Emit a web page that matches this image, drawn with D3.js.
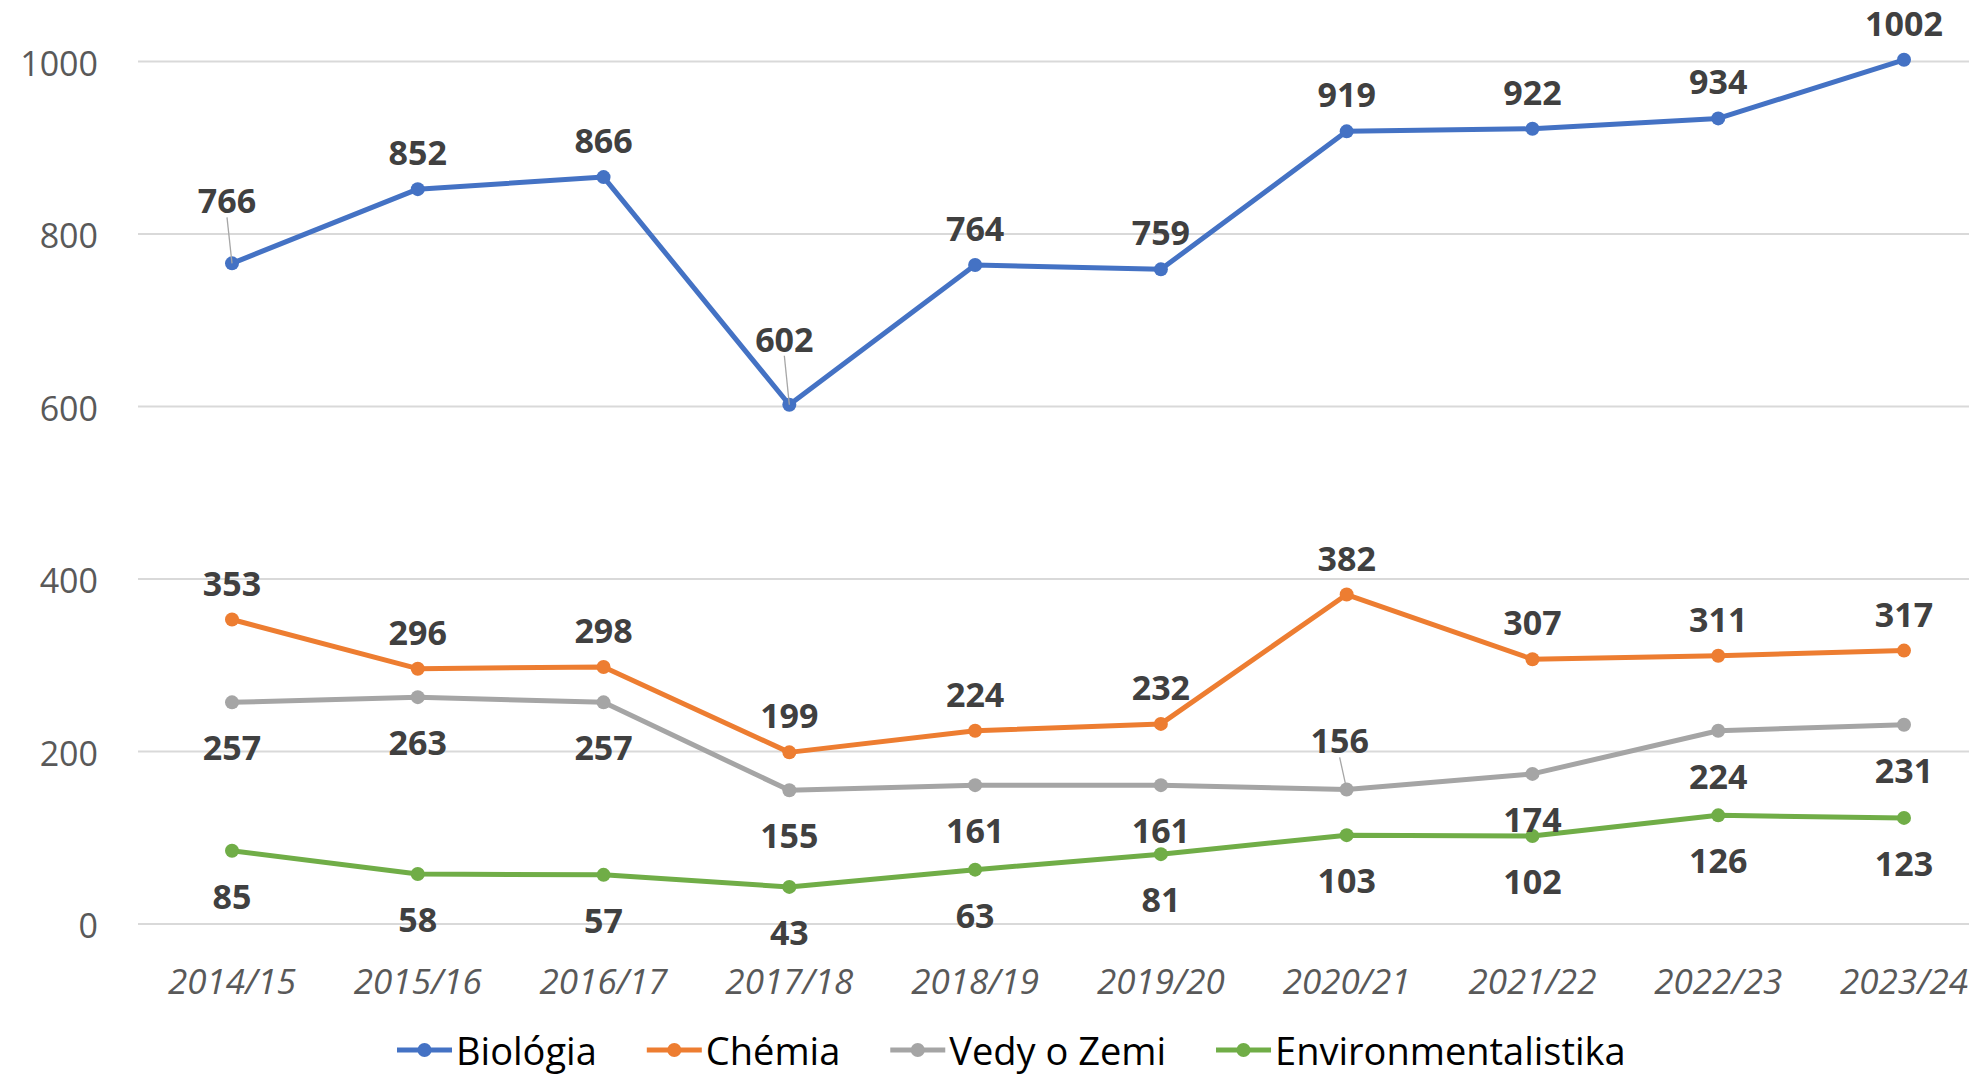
<!DOCTYPE html>
<html>
<head>
<meta charset="utf-8">
<script src="https://cdn.jsdelivr.net/npm/d3@7"></script>
<style>
  body { margin: 0; background: #fff; }
  text { font-family: "Open Sans", sans-serif; }
</style>
</head>
<body>
<div id="chart"></div>
<script>
// values
const years = ["2014/15", "2015/16", "2016/17", "2017/18", "2018/19", "2019/20", "2020/21", "2021/22", "2022/23", "2023/24"];
const biologia = [766, 852, 866, 602, 764, 759, 919, 922, 934, 1002];
const chemia = [353, 296, 298, 199, 224, 232, 382, 307, 311, 317];
const vedyOZemi = [257, 263, 257, 155, 161, 161, 156, 174, 224, 231];
const environmentalistika = [85, 58, 57, 43, 63, 81, 103, 102, 126, 123];
const yTicks = [0, 200, 400, 600, 800, 1000];

const series = [
    {name: "Biológia", values: biologia, color: "#4472C4", above: true},
    {name: "Chémia", values: chemia, color: "#ED7D31", above: true},
    {name: "Vedy o Zemi", values: vedyOZemi, color: "#A5A5A5", above: false},
    {name: "Environmentalistika", values: environmentalistika, color: "#70AD47", above: false}
];

// labels that Excel moved away and tied with a leader line
const moved = {"Biológia:0": [-5, -63], "Biológia:3": [-5, -66], "Vedy o Zemi:6": [-7, -49]};

var width = 1969, height = 1075;

var svg = d3.select("#chart")
    .append("svg")
    .attr("width", width)
    .attr("height", height);

var x = d3.scalePoint()
    .domain(years)
    .range([232, 1904]);

var y = d3.scaleLinear()
    .domain([0, 1000])
    .range([924, 61.5]);

// gridlines
svg.append("g")
    .selectAll("line")
    .data(yTicks)
    .enter()
    .append("line")
    .attr("x1", 138)
    .attr("x2", width)
    .attr("y1", d => y(d))
    .attr("y2", d => y(d))
    .style("stroke", "#d9d9d9")
    .style("stroke-width", 2);

// y axis labels
svg.append("g")
    .selectAll("text")
    .data(yTicks)
    .enter()
    .append("text")
    .attr("x", 98)
    .attr("y", d => y(d) + 1)
    .attr("text-anchor", "end")
    .attr("dominant-baseline", "central")
    .style("font-size", "34px")
    .style("fill", "#595959")
    .text(d => d);

// x axis labels
svg.append("g")
    .selectAll("text")
    .data(years)
    .enter()
    .append("text")
    .attr("x", d => x(d))
    .attr("y", 980)
    .attr("text-anchor", "middle")
    .attr("dominant-baseline", "central")
    .style("font-size", "35px")
    .style("font-style", "italic")
    .style("fill", "#595959")
    .text(d => d);

var line = d3.line()
    .x((d, i) => x(years[i]))
    .y(d => y(d));

series.forEach(function(s) {
    var g = svg.append("g");
    g.append("path")
        .datum(s.values)
        .attr("d", line)
        .style("fill", "none")
        .style("stroke", s.color)
        .style("stroke-width", 5)
        .style("stroke-linejoin", "round");

    g.selectAll("circle")
        .data(s.values)
        .enter()
        .append("circle")
        .attr("cx", (d, i) => x(years[i]))
        .attr("cy", d => y(d))
        .attr("r", 7)
        .style("fill", s.color);
});

// data labels
series.forEach(function(s) {
    var g = svg.append("g");
    s.values.forEach(function(v, i) {
        var px = x(years[i]), py = y(v);
        var off = moved[s.name + ":" + i];
        var dx = off ? off[0] : 0;
        var dy = off ? off[1] : (s.above ? -37 : 45);
        if (off) {
            g.append("line")
                .attr("x1", px + dx)
                .attr("y1", py + dy + 17)
                .attr("x2", px)
                .attr("y2", py)
                .style("stroke", "#a6a6a6")
                .style("stroke-width", 1.3);
        }
        g.append("text")
            .attr("x", px + dx)
            .attr("y", py + dy)
            .attr("text-anchor", "middle")
            .attr("dominant-baseline", "central")
            .style("font-size", "34px")
            .style("font-weight", "bold")
            .style("fill", "#404040")
            .text(v);
    });
});

// legend
var legend = svg.append("g");
var lx = 397, ly = 1050;
series.forEach(function(s) {
    legend.append("line")
        .attr("x1", lx)
        .attr("x2", lx + 55)
        .attr("y1", ly)
        .attr("y2", ly)
        .style("stroke", s.color)
        .style("stroke-width", 5);
    legend.append("circle")
        .attr("cx", lx + 27.5)
        .attr("cy", ly)
        .attr("r", 7)
        .style("fill", s.color);
    var t = legend.append("text")
        .attr("x", lx + 59)
        .attr("y", ly)
        .attr("dominant-baseline", "central")
        .style("font-size", "38px")
        .style("fill", "#000")
        .text(s.name);
    lx = lx + 59 + t.node().getComputedTextLength() + 50;
});
</script>
</body>
</html>
